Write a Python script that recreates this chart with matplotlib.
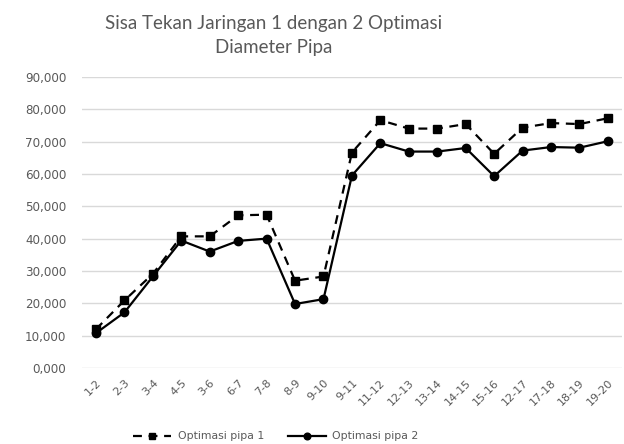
import matplotlib.pyplot as plt
from matplotlib.ticker import FuncFormatter

# data
segmen = ["1-2", "2-3", "3-4", "4-5", "3-6", "6-7", "7-8", "8-9", "9-10", "9-11",
          "11-12", "12-13", "13-14", "14-15", "15-16", "12-17", "17-18", "18-19", "19-20"]
pipa1 = [12.0, 20.9, 29.1, 40.7, 40.7, 47.2, 47.4, 27.0, 28.3, 66.6,
         76.6, 74.0, 74.0, 75.4, 66.2, 74.3, 75.7, 75.4, 77.2]
pipa2 = [10.8, 17.2, 28.3, 39.4, 36.0, 39.3, 40.0, 19.8, 21.3, 59.5,
         69.5, 66.9, 66.9, 68.0, 59.3, 67.2, 68.3, 68.1, 70.1]
yticks = [0, 10, 20, 30, 40, 50, 60, 70, 80, 90]

plt.rcParams['font.family'] = ['DejaVu Sans']
grey = "#595959"

fig = plt.figure(figsize=(6.24, 4.44), dpi=100)
ax = fig.add_axes([0.131, 0.171, 0.866, 0.656])

x = range(len(segmen))
ax.plot(x, pipa1, color="black", lw=1.6, ls=(0, (4, 3)), marker="s", ms=6,
        label="Optimasi pipa 1")
ax.plot(x, pipa2, color="black", lw=1.6, marker="o", ms=6,
        label="Optimasi pipa 2")

ax.set_ylim(0, 90)
ax.set_xlim(-0.5, len(segmen) - 0.5)
ax.set_yticks(yticks)
ax.yaxis.set_major_formatter(FuncFormatter(lambda v, p: f"{v:.3f}".replace(".", ",")))
ax.set_xticks(list(x))
ax.set_xticklabels(segmen, rotation=45, ha="right", rotation_mode="anchor")
ax.tick_params(axis="both", length=0, colors=grey)
ax.tick_params(axis="y", pad=11, labelsize=8.6)
ax.tick_params(axis="x", pad=7, labelsize=8)
ax.grid(axis="y", color="#d9d9d9", lw=1)
ax.set_axisbelow(True)
for s in ax.spines.values():
    s.set_visible(False)

fig.text(0.438, 0.921, "Sisa Tekan Jaringan 1 dengan 2 Optimasi\nDiameter Pipa",
         ha="center", va="center", multialignment="center", fontsize=13.5,
         color=grey, linespacing=1.5, family="Lato")

fig.legend(loc="center", bbox_to_anchor=(0.442, 0.017), ncol=2, frameon=False,
           fontsize=7.8, labelcolor=grey, handlelength=3.5, columnspacing=2.2,
           handletextpad=0.6, markerscale=0.8)

fig.savefig("out.png", dpi=100)
